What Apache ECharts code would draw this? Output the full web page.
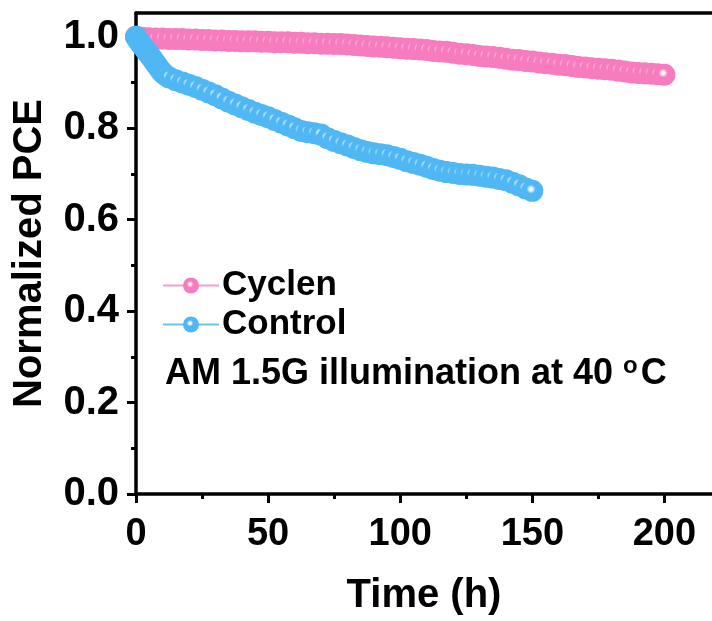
<!DOCTYPE html>
<html>
<head>
<meta charset="utf-8">
<script src="https://cdn.jsdelivr.net/npm/echarts@6/dist/echarts.min.js"></script>
<style>
html,body{margin:0;padding:0;background:#fff;}
#chart{width:712px;height:621px;}
</style>
</head>
<body>
<div id="chart"></div>
<script>
// ---- data ----
const cyclenTime = [0,2.5,5,7.5,10,12.5,15,17.5,20,22.5,25,27.5,30,32.5,35,37.5,40,42.5,45,47.5,50,52.5,55,57.5,60,62.5,65,67.5,70,72.5,75,77.5,80,82.5,85,87.5,90,92.5,95,97.5,100,102.5,105,107.5,110,112.5,115,117.5,120,122.5,125,127.5,130,132.5,135,137.5,140,142.5,145,147.5,150,152.5,155,157.5,160,162.5,165,167.5,170,172.5,175,177.5,180,182.5,185,187.5,190,192.5,195,197.5,200];
const cyclenPCE = [1.000,0.998,0.997,0.996,0.996,0.995,0.995,0.995,0.994,0.994,0.993,0.993,0.992,0.992,0.991,0.991,0.990,0.990,0.990,0.989,0.989,0.988,0.988,0.988,0.987,0.987,0.986,0.986,0.985,0.985,0.984,0.984,0.983,0.982,0.981,0.980,0.979,0.978,0.977,0.976,0.975,0.974,0.973,0.972,0.971,0.969,0.968,0.967,0.965,0.963,0.962,0.960,0.958,0.957,0.956,0.954,0.952,0.950,0.949,0.947,0.946,0.944,0.942,0.941,0.939,0.938,0.936,0.934,0.933,0.931,0.930,0.929,0.928,0.926,0.924,0.922,0.921,0.920,0.919,0.918,0.917];
const controlTime = [0,1,2,3,4,5,6,7,8,9,10,11,12.5,15,17.5,20,22.5,25,27.5,30,32.5,35,37.5,40,42.5,45,47.5,50,52.5,55,57.5,60,62.5,65,67.5,70,72.5,75,77.5,80,82.5,85,87.5,90,92.5,95,97.5,100,102.5,105,107.5,110,112.5,115,117.5,120,122.5,125,127.5,130,132.5,135,137.5,140,142.5,145,147.5,150];
const controlPCE = [1.000,0.991,0.983,0.976,0.968,0.961,0.953,0.945,0.937,0.929,0.922,0.917,0.911,0.905,0.900,0.895,0.890,0.884,0.878,0.872,0.865,0.858,0.852,0.846,0.840,0.834,0.829,0.824,0.818,0.812,0.806,0.800,0.794,0.791,0.789,0.786,0.778,0.772,0.767,0.762,0.757,0.752,0.748,0.745,0.743,0.741,0.737,0.733,0.728,0.724,0.720,0.716,0.711,0.707,0.704,0.702,0.700,0.699,0.698,0.696,0.694,0.692,0.689,0.686,0.681,0.675,0.668,0.663];
const xTicks = [0,50,100,150,200];
const xMinorTicks = [25,75,125,175];
const yTicks = [0,0.2,0.4,0.6,0.8,1.0];
const yMinorTicks = [0.1,0.3,0.5,0.7,0.9];
const seriesNames = ['Cyclen','Control'];
const xTitle = 'Time (h)';
const yTitle = 'Normalized PCE';

// ---- styling ----
const FONT = '"Liberation Sans", Arial, sans-serif';
const PINK = '#F77CBF';
const BLUE = '#4FB7F4';
const X_MAX = 218, Y_MAX = 1.052;
function ball(c, hl){
  return {type:'radial', x:0.44, y:0.42, r:0.5,
    colorStops:[{offset:0,color:'#ffffff'},{offset:0.14,color:'#fdf6fa'},{offset:0.24,color:hl},{offset:0.42,color:c},{offset:1,color:c}]};
}
function zip(a,b){ return a.map((v,i)=>[v,b[i]]); }

const axisLine = {show:true, lineStyle:{color:'#000', width:3.5}};
const chart = echarts.init(document.getElementById('chart'), null, {renderer:'canvas'});
chart.setOption({
  animation:false,
  backgroundColor:'#fff',
  grid:{left:136, right:0, top:13, bottom:124, containLabel:false},
  legend:{
    left:157, top:262, orient:'vertical', itemWidth:56, itemHeight:20, itemGap:2,
    textStyle:{fontFamily:FONT, fontWeight:'bold', fontSize:35, color:'#000', lineHeight:37, padding:[0,0,0,-2]},
    data:seriesNames
  },
  xAxis:[
    {type:'value', min:0, max:X_MAX, position:'bottom',
     name:xTitle, nameLocation:'middle', nameGap:82,
     nameTextStyle:{fontFamily:FONT, fontWeight:'bold', fontSize:40, color:'#000'},
     axisLine:axisLine,
     axisTick:{show:true, inside:false, length:9, customValues:xTicks, lineStyle:{color:'#000', width:3}},
     axisLabel:{show:true, customValues:xTicks, margin:22, fontFamily:FONT, fontWeight:'bold', fontSize:38, color:'#000'},
     splitLine:{show:false}},
    {type:'value', min:0, max:X_MAX, position:'bottom',
     axisLine:{show:false},
     axisTick:{show:true, length:5, customValues:xMinorTicks, lineStyle:{color:'#000', width:3}},
     axisLabel:{show:false}, splitLine:{show:false}},
    {type:'value', min:0, max:X_MAX, position:'top',
     axisLine:axisLine, axisTick:{show:false}, axisLabel:{show:false}, splitLine:{show:false}}
  ],
  yAxis:[
    {type:'value', min:0, max:Y_MAX, position:'left',
     name:yTitle, nameLocation:'middle', nameGap:86,
     nameTextStyle:{fontFamily:FONT, fontWeight:'bold', fontSize:40, color:'#000'},
     axisLine:axisLine,
     axisTick:{show:true, length:9, customValues:yTicks, lineStyle:{color:'#000', width:3}},
     axisLabel:{show:true, customValues:yTicks, margin:17, fontFamily:FONT, fontWeight:'bold', fontSize:40, color:'#000',
       formatter:v=>v.toFixed(1)},
     splitLine:{show:false}},
    {type:'value', min:0, max:Y_MAX, position:'left',
     axisLine:{show:false},
     axisTick:{show:true, length:5, customValues:yMinorTicks, lineStyle:{color:'#000', width:3}},
     axisLabel:{show:false}, splitLine:{show:false}}
  ],
  series:[
    {name:seriesNames[0], type:'line', xAxisIndex:0, yAxisIndex:0,
     data:zip(cyclenTime,cyclenPCE), symbol:'circle', symbolSize:22, showSymbol:true, showAllSymbol:true,
     lineStyle:{color:'#F79BCD', width:3}, itemStyle:{color:ball(PINK,'#FBC6E2'), borderWidth:0},
     z:3},
    {name:seriesNames[1], type:'line', xAxisIndex:0, yAxisIndex:0,
     data:zip(controlTime,controlPCE), symbol:'circle', symbolSize:22, showSymbol:true, showAllSymbol:true,
     lineStyle:{color:'#6CC3F2', width:3}, itemStyle:{color:ball(BLUE,'#B5E0FA'), borderWidth:0},
     z:4}
  ],
  graphic:[
    {type:'text', left:165, top:354,
     style:{text:'AM 1.5G illumination at 40 {s|o}C', fill:'#000',
       font:'bold 36px '+FONT,
       rich:{s:{fontSize:24, fontWeight:'bold', fontFamily:FONT, fill:'#000', verticalAlign:'top', padding:[0,3,16,0]}}}}
  ]
});
</script>
</body>
</html>
